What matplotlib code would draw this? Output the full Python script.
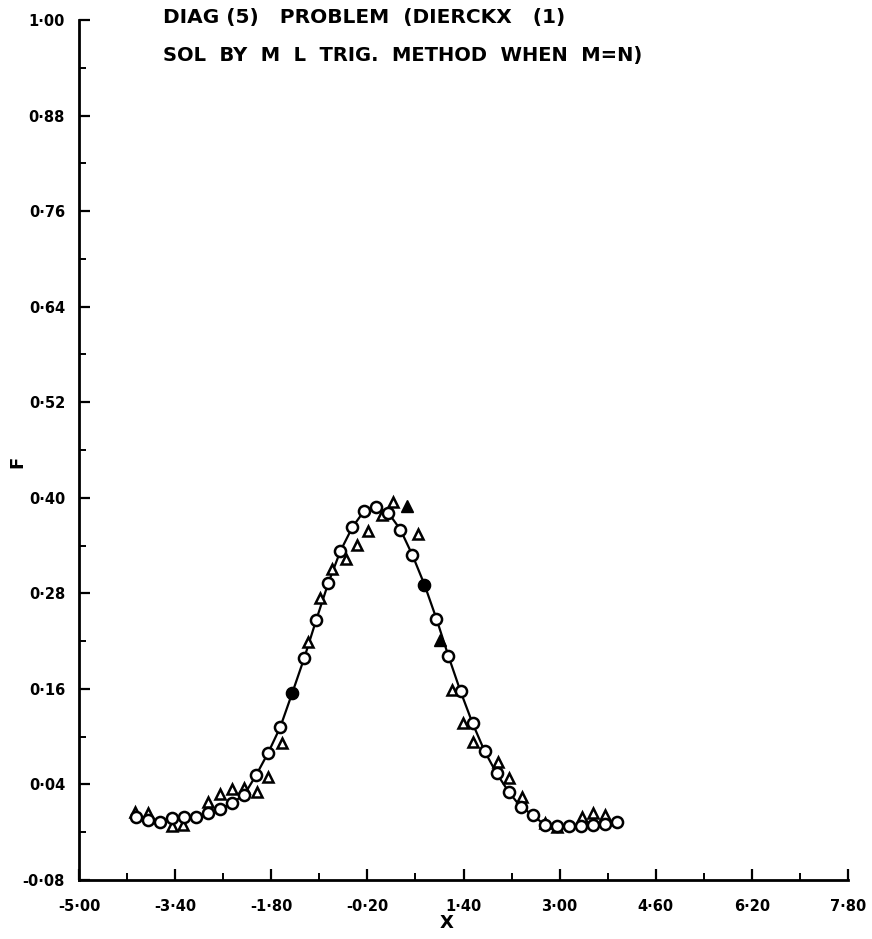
import numpy as np
import matplotlib
matplotlib.use("Agg")
import matplotlib.pyplot as plt
from matplotlib.ticker import FixedLocator

# circles: fitted solution points (curve drawn through them)
circle_x = [-4.05, -3.85, -3.65, -3.45, -3.25, -3.05, -2.85, -2.65, -2.45, -2.25,
            -2.05, -1.85, -1.65, -1.45, -1.25, -1.05, -0.85, -0.65, -0.45, -0.25,
            -0.05, 0.15, 0.35, 0.55, 0.75, 0.95, 1.15, 1.35, 1.55, 1.75,
            1.95, 2.15, 2.35, 2.55, 2.75, 2.95, 3.15, 3.35, 3.55, 3.75, 3.95]
circle_f = [-0.001, -0.005, -0.007, -0.002, -0.001, -0.001, 0.004, 0.009, 0.017, 0.027,
            0.052, 0.080, 0.112, 0.155, 0.199, 0.247, 0.293, 0.333, 0.363, 0.384,
            0.389, 0.381, 0.360, 0.328, 0.291, 0.248, 0.201, 0.157, 0.117, 0.082,
            0.054, 0.031, 0.012, 0.002, -0.011, -0.012, -0.012, -0.012, -0.011, -0.010, -0.007]
filled_circle_x = [-1.45, 0.75]
filled_circle_f = [0.155, 0.291]

# triangles: data points
tri_x = [-4.07, -3.85, -3.45, -3.27, -2.85, -2.65, -2.45, -2.25, -2.04, -1.86,
         -1.62, -1.19, -0.99, -0.79, -0.56, -0.37, -0.19, 0.04, 0.22, 0.64,
         1.21, 1.39, 1.56, 1.97, 2.15, 2.37, 2.75, 2.95, 3.37, 3.55, 3.75]
tri_f = [0.005, 0.004, -0.012, -0.011, 0.018, 0.028, 0.034, 0.036, 0.031, 0.049,
         0.092, 0.219, 0.274, 0.311, 0.323, 0.341, 0.358, 0.379, 0.395, 0.355,
         0.159, 0.117, 0.093, 0.068, 0.048, 0.024, -0.008, -0.013, -0.001, 0.004, 0.002]
filled_tri_x = [0.46, 1.01]
filled_tri_f = [0.390, 0.222]

x_ticks = [-5.0, -3.4, -1.8, -0.2, 1.4, 3.0, 4.6, 6.2, 7.8]
x_labels = ["-5·00", "-3·40", "-1·80", "-0·20", "1·40", "3·00", "4·60", "6·20", "7·80"]
y_ticks = [-0.08, 0.04, 0.16, 0.28, 0.40, 0.52, 0.64, 0.76, 0.88, 1.00]
y_labels = ["-0·08", "0·04", "0·16", "0·28", "0·40", "0·52", "0·64", "0·76", "0·88", "1·00"]

plt.rcParams['font.family'] = ['DejaVu Sans']
plt.rcParams['font.weight'] = 'bold'

fig = plt.figure(figsize=(8.72, 9.39), dpi=100)
ax = fig.add_axes([0.0906, 0.0628, 0.8819, 0.9159])

ax.plot(circle_x, circle_f, color='black', lw=1.6, zorder=2)
ax.plot(tri_x, tri_f, linestyle='none', marker='^', markersize=7, mfc='white',
        mec='black', mew=1.8, zorder=3)
ax.plot(circle_x, circle_f, linestyle='none', marker='o', markersize=8, mfc='white',
        mec='black', mew=1.8, zorder=4)
ax.plot(filled_circle_x, filled_circle_f, linestyle='none', marker='o', markersize=8,
        color='black', zorder=5)
ax.plot(filled_tri_x, filled_tri_f, linestyle='none', marker='^', markersize=8,
        color='black', zorder=5)

ax.set_xlim(-5.0, 7.8)
ax.set_ylim(-0.08, 1.00)
ax.xaxis.set_major_locator(FixedLocator(x_ticks))
ax.set_xticklabels(x_labels)
# minor ticks halfway between the labelled ones
ax.xaxis.set_minor_locator(FixedLocator([(a + b) / 2 for a, b in zip(x_ticks[:-1], x_ticks[1:])]))
ax.yaxis.set_major_locator(FixedLocator(y_ticks))
ax.set_yticklabels(y_labels)
ax.yaxis.set_minor_locator(FixedLocator([(a + b) / 2 for a, b in zip(y_ticks[:-1], y_ticks[1:])]))

for side in ['top', 'right']:
    ax.spines[side].set_visible(False)
for side in ['left', 'bottom']:
    ax.spines[side].set_linewidth(2.0)

ax.tick_params(axis='x', which='major', direction='in', length=8, width=1.6, labelsize=10.5, pad=14)
ax.tick_params(axis='y', which='major', direction='in', length=8, width=1.6, labelsize=10.5, pad=10)
ax.tick_params(which='minor', direction='in', length=5, width=1.4)

ax.set_xlabel('X', fontsize=13, fontweight='bold')
ax.xaxis.set_label_coords(0.478, -0.040)
ax.set_ylabel('F', fontsize=13, fontweight='bold')
ax.yaxis.set_label_coords(-0.068, 0.486)

fig.text(0.187, 0.981, "DIAG (5)   PROBLEM  (DIERCKX   (1)", fontsize=14.5,
         fontweight='bold', va='center', ha='left')
fig.text(0.187, 0.941, "SOL  BY  M  L  TRIG.  METHOD  WHEN  M=N)", fontsize=14,
         fontweight='bold', va='center', ha='left')

fig.savefig("out.png", dpi=100)
